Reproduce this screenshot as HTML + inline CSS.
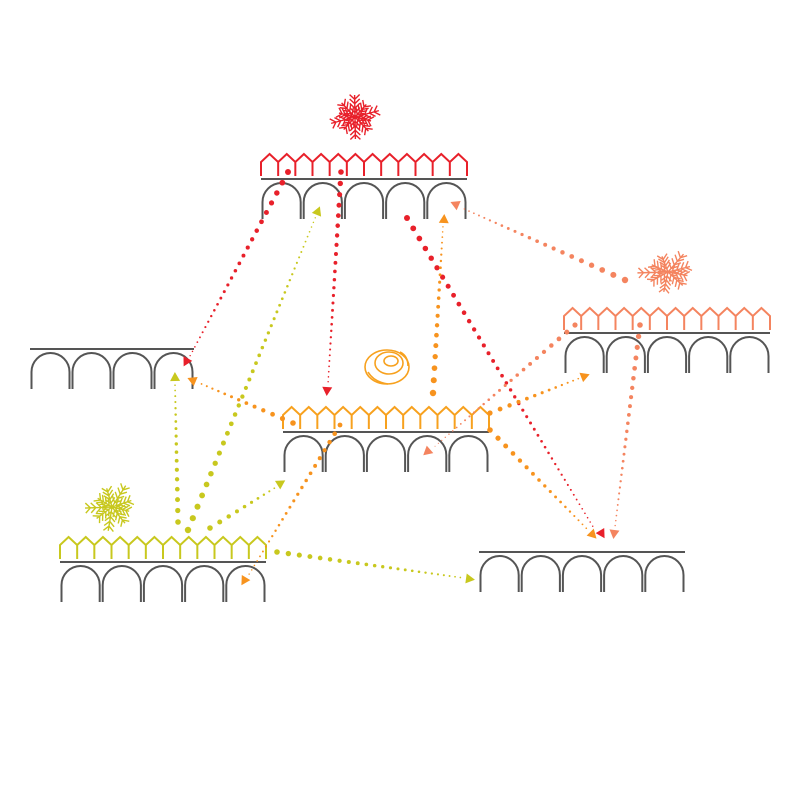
<!DOCTYPE html>
<html><head><meta charset="utf-8"><style>html,body{margin:0;padding:0;background:#fff}svg{display:block}</style></head>
<body>
<svg id="s" width="800" height="800" viewBox="0 0 800 800" xmlns="http://www.w3.org/2000/svg"></svg>
<script>
const s=document.getElementById('s');let h='';
const G='#555';
function module(x,w,lineY,fenceCol){
  h+=`<line x1="${x}" y1="${lineY}" x2="${x+w}" y2="${lineY}" stroke="${G}" stroke-width="2"/>`;
  const n=Math.round(w/41);const aw=w/n;
  for(let i=0;i<n;i++){const a=x+i*aw+1.5,b=x+(i+1)*aw-1.5,r=(b-a)/2,top=lineY+4;
    h+=`<path d="M${a} ${lineY+40}V${top+r}A${r} ${r} 0 0 1 ${b} ${top+r}V${lineY+40}" fill="none" stroke="${G}" stroke-width="2"/>`;}
  if(fenceCol){const m=12,uw=w/m;let d='';
    for(let i=0;i<m;i++){const a=x+i*uw,b=a+uw,c=a+uw/2;
      d+=`M${a} ${lineY-3}V${lineY-17}L${c} ${lineY-25}L${b} ${lineY-17}V${lineY-3}`;}
    h+=`<path d="${d}" fill="none" stroke="${fenceCol}" stroke-width="2"/>`;}
}
module(261,206,179,'#e8202a');
module(30,164,349,null);
module(564,206,333,'#f4845f');
module(283,206,432,'#f7a11e');
module(60,206,562,'#c8c81e');
module(479,206,552,null);
function dots(x1,y1,x2,y2,col,r0,r1,ax,ay){
  const L=Math.hypot(x2-x1,y2-y1);let t=0;
  while(t<1){const r=r0+(r1-r0)*t;h+=`<circle cx="${x1+(x2-x1)*t}" cy="${y1+(y2-y1)*t}" r="${r}" fill="${col}"/>`;t+=(r*3.2+2.5)/L;}
  if(ax!==undefined){const ang=Math.atan2(y2-y1,x2-x1)*180/Math.PI;
    h+=`<polygon points="5,0 -4,-5 -4,5" fill="${col}" transform="translate(${ax},${ay}) rotate(${ang})"/>`;}
}
const R='#e8202a',Y='#c8c81e',O='#f7931e',S='#f4845f';
dots(288,172,190,356,R,3,0.7,186,362);
dots(341,172,328,384,R,2.8,0.7,327,391);
dots(407,218,595,530,R,3,0.7,602,534);
dots(188,530,316,216,Y,3.2,0.7,318,211);
dots(178,522,175,384,Y,2.8,0.8,175,377);
dots(210,528,278,486,Y,2.8,0.8,281,483);
dots(277,552,464,578,Y,2.8,0.8,470,579);
dots(433,393,443,226,O,3.2,0.7,444,219);
dots(293,423,197,382,O,2.8,0.8,192,380);
dots(340,425,248,576,O,2.4,0.7,244,581);
dots(490,413,580,378,O,2.6,0.8,585,376);
dots(490,430,588,530,O,2.8,0.8,593,535);
dots(625,280,462,208,S,3.2,0.7,455,204);
dots(575,325,433,448,S,2.6,0.5,427,452);
dots(640,325,615,527,S,2.8,0.7,614,534);
function plant(cx,cy,col,rx,ry,n){let d='';
  for(let i=0;i<n;i++){const a=i*2*Math.PI/n+0.3,l=0.6+0.4*((i*7)%5)/4;
    const ex=cx+Math.cos(a)*rx*l,ey=cy+Math.sin(a)*ry*l;d+=`M${cx} ${cy}L${ex} ${ey}`;
    for(let k=1;k<5;k++){const px=cx+(ex-cx)*k/5,py=cy+(ey-cy)*k/5;
      d+=`M${px} ${py}l${Math.cos(a+0.8)*7} ${Math.sin(a+0.8)*7}M${px} ${py}l${Math.cos(a-0.8)*7} ${Math.sin(a-0.8)*7}`;}}
  h+=`<path d="${d}" fill="none" stroke="${col}" stroke-width="1.4"/>`;}
plant(355,117,R,28,22,10);
plant(668,272,S,34,20,9);
plant(112,507,Y,30,24,9);
h+=`<g fill="none" stroke="#f7a11e" stroke-width="1.6"><ellipse cx="387" cy="367" rx="22" ry="17"/><ellipse cx="389" cy="363" rx="14" ry="11"/><ellipse cx="391" cy="361" rx="7" ry="5"/><path d="M368 372q6 10 20 12M400 352q8 4 8 14"/></g>`;
s.innerHTML=h;
</script>
</body></html>
